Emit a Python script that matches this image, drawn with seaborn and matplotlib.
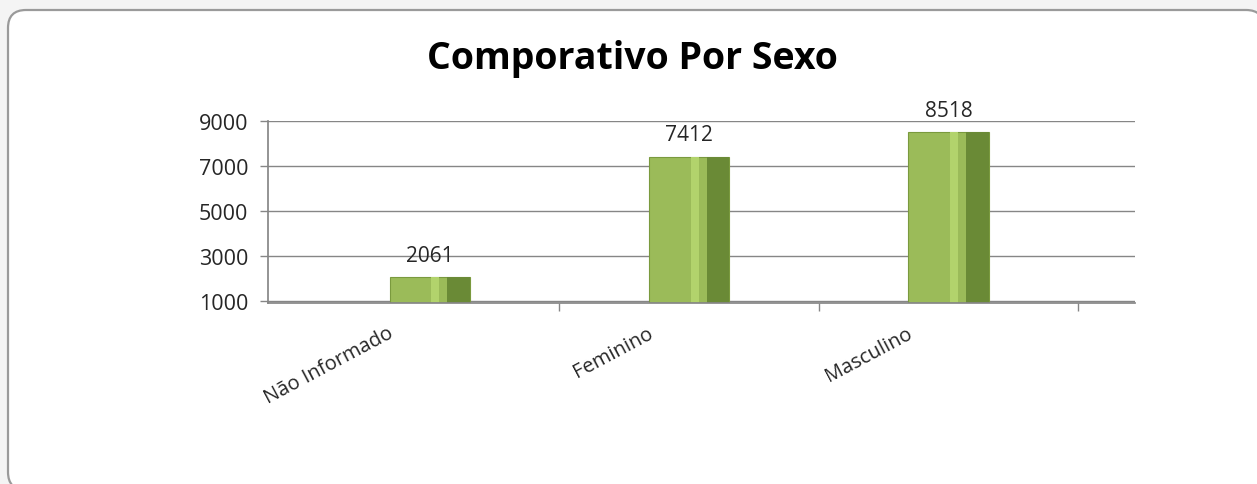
import matplotlib
matplotlib.use("Agg")
import matplotlib.pyplot as plt
import matplotlib.transforms as mtransforms
import seaborn as sns
import pandas as pd
from matplotlib.patches import FancyBboxPatch, Rectangle

categories = ["Não Informado", "Feminino", "Masculino"]
values = [2061, 7412, 8518]
yticks = [1000, 3000, 5000, 7000, 9000]
title = "Comporativo Por Sexo"

sns.set_theme(style="white")
plt.rcParams['font.family'] = ['Open Sans', 'DejaVu Sans']

df = pd.DataFrame({"cat": categories, "val": values})

fig = plt.figure(figsize=(12.57, 4.85), dpi=100)
fig.patch.set_facecolor("#f4f4f4")
# rounded frame (pixel coordinates), cut off at right and bottom like the reference
frame = FancyBboxPatch((8, -6), 1256, 480, boxstyle="round,pad=0,rounding_size=18",
                       transform=mtransforms.IdentityTransform(), facecolor="white",
                       edgecolor="#9a9a9a", linewidth=1.6, zorder=-10)
fig.patches.append(frame)

ax = fig.add_axes([0.213, 0.3726, 0.69, 0.376])
ax.patch.set_alpha(0)
sns.barplot(data=df, x="cat", y="val", ax=ax, color="#9bbb59", width=0.31,
            saturation=1, edgecolor="#7a9a3e", linewidth=0.8)

# shaded right face to hint the 3D look
for p in list(ax.patches):
    x0, w = p.get_x(), p.get_width()
    h = p.get_height()
    ax.add_patch(Rectangle((x0 + w * 0.72, 0), w * 0.28, h, facecolor="#6a8a36",
                           edgecolor="none", zorder=p.get_zorder() + 0.1))
    ax.add_patch(Rectangle((x0 + w * 0.52, 0), w * 0.1, h, facecolor="#b2d36c",
                           edgecolor="none", zorder=p.get_zorder() + 0.1))

for i, v in enumerate(values):
    ax.text(i, v + 500, f"{v}", ha="center", va="bottom", fontsize=15, color="#262626")

ax.set_ylim(900, 9000)
ax.set_yticks(yticks)
ax.set_yticklabels([str(t) for t in yticks], fontsize=15.5, color="#262626")
ax.set_xlim(-0.625, 2.72)
ax.set_xticks(range(len(categories)))
ax.set_xticklabels(categories, rotation=28, ha="right", va="top", rotation_mode="anchor",
                   fontsize=14.5, color="#262626")
ax.set_xticks([0.5, 1.5, 2.5], minor=True)
ax.tick_params(axis="x", which="major", length=0, pad=14)
ax.tick_params(axis="x", which="minor", length=6, color="#868686", bottom=True, width=1)
ax.tick_params(axis="y", length=6, color="#868686", left=True, width=1, pad=8)
offset = mtransforms.ScaledTranslation(-0.42, 0, fig.dpi_scale_trans)
for lab in ax.get_xticklabels():
    lab.set_transform(lab.get_transform() + offset)
ax.set_xlabel("")
ax.set_ylabel("")
ax.yaxis.grid(True, color="#868686", linewidth=1.0)
ax.set_axisbelow(True)
for s in ["top", "right"]:
    ax.spines[s].set_visible(False)
ax.spines["left"].set_color("#868686")
ax.spines["bottom"].set_color("#868686")

fig.text(0.503, 0.878, title, ha="center", va="center", fontsize=27, fontweight="bold",
         color="black")

fig.savefig("out.png", dpi=100, facecolor=fig.get_facecolor())
